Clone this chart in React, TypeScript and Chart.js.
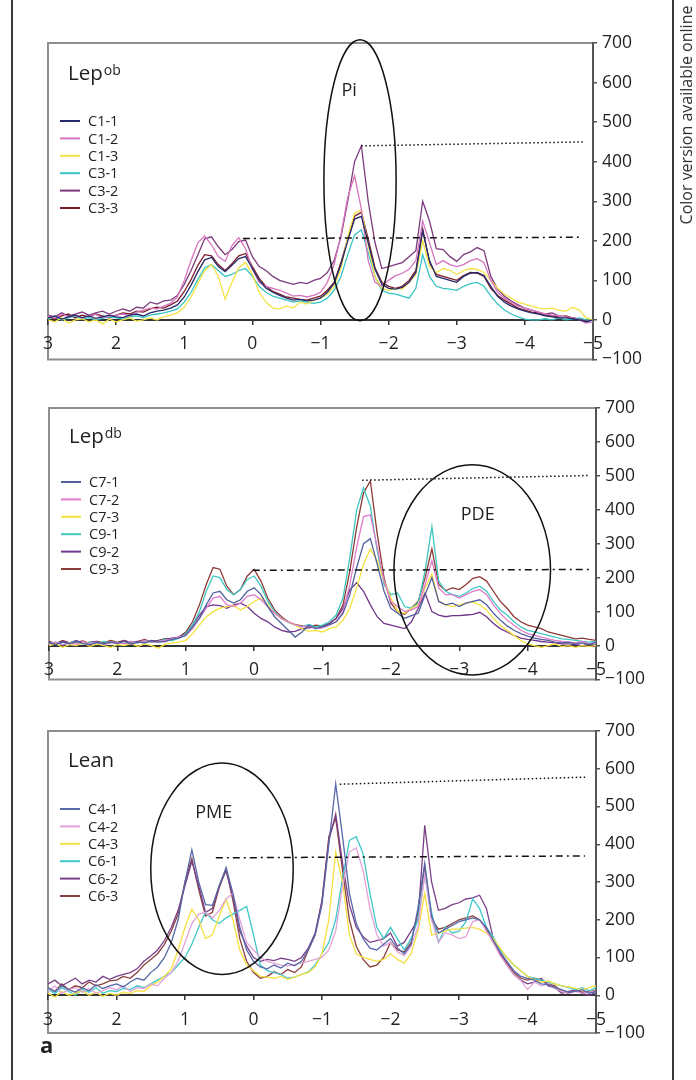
import React, { useEffect, useRef } from 'react';
import { Chart, registerables } from 'chart.js';
Chart.register(...registerables);

const FONT = '"Open Sans", "Noto Sans", sans-serif';
const TEXT = '#231f20';

// shared chemical-shift grid (ppm), left to right
const XS = [
  3.0, 2.9, 2.8, 2.7, 2.6, 2.5, 2.4, 2.3, 2.2, 2.1,
  2.0, 1.9, 1.8, 1.7, 1.6, 1.5, 1.4, 1.3, 1.2, 1.1,
  1.0, 0.9, 0.8, 0.7, 0.6, 0.5, 0.4, 0.3, 0.2, 0.1,
  0.0, -0.1, -0.2, -0.3, -0.4, -0.5, -0.6, -0.7, -0.8, -0.9,
  -1.0, -1.1, -1.2, -1.3, -1.4, -1.5, -1.6, -1.7, -1.8, -1.9,
  -2.0, -2.1, -2.2, -2.3, -2.4, -2.5, -2.6, -2.7, -2.8, -2.9,
  -3.0, -3.1, -3.2, -3.3, -3.4, -3.5, -3.6, -3.7, -3.8, -3.9,
  -4.0, -4.1, -4.2, -4.3, -4.4, -4.5, -4.6, -4.7, -4.8, -4.9,
  -5.0,
];
const X_TICKS = [3, 2, 1, 0, -1, -2, -3, -4, -5];
const Y_TICKS = [700, 600, 500, 400, 300, 200, 100, 0, -100];

// ---------- Panel 1: Lep ob ----------
const P1_NAMES = ['C1-1', 'C1-2', 'C1-3', 'C3-1', 'C3-2', 'C3-3'];
const P1_COLORS = ['#262a6c', '#d674be', '#f2e244', '#38c4c2', '#7c3a7c', '#7a1e2c'];
const P1_C1_1 = [
  5, 10, 2, 8, 12, 6, 10, 4, 8, 12,
  8, 6, 12, 15, 10, 18, 22, 25, 30, 38,
  58, 88, 122, 152, 158, 135, 122, 138, 155, 160,
  130, 100, 80, 70, 62, 55, 50, 52, 48, 50,
  55, 70, 92, 140, 200, 255, 262, 195, 128, 90,
  80, 78, 82, 95, 120, 225, 150, 110, 105, 100,
  95, 110, 118, 120, 112, 85, 60, 45, 35, 28,
  22, 18, 15, 10, 8, 5, 5, 3, 0, -5,
  0,
];
const P1_C1_2 = [
  10, 5, 15, 8, 12, 5, 10, 14, 6, 10,
  12, 15, 10, 20, 25, 30, 28, 35, 42, 58,
  100, 150, 195, 212, 190, 160, 148, 188, 208, 180,
  128, 95, 85, 80, 75, 68, 60, 62, 58, 62,
  70, 95, 140, 215, 310, 365, 280, 150, 95, 85,
  100, 112, 118, 128, 150, 250, 195, 140, 150, 140,
  135, 140, 150, 155, 145, 100, 70, 55, 45, 35,
  30, 25, 20, 15, 12, 10, 8, 5, 0, -8,
  -5,
];
const P1_C1_3 = [
  0, -5, 5, -8, 0, 3, -5, 0, -10, 2,
  -5, 0, 5, -3, 0, 5, 0, 8, 12, 18,
  32, 58, 92, 125, 140, 110, 52, 95, 132, 145,
  115, 70, 45, 30, 28, 35, 30, 45, 40, 50,
  55, 65, 85, 130, 210, 270, 278, 190, 110, 80,
  75, 80, 78, 95, 115, 200, 135, 120, 130, 125,
  115, 125, 130, 128, 120, 100, 80, 65, 55, 45,
  40, 35, 30, 28, 30, 25, 22, 32, 25, 5,
  0,
];
const P1_C3_1 = [
  3, 8, 0, 5, 10, 2, 6, 0, 4, 8,
  5, 2, 8, 10, 6, 12, 15, 18, 22, 28,
  45, 70, 102, 132, 140, 125, 110, 115, 125, 130,
  110, 85, 70, 60, 55, 50, 45, 48, 45, 42,
  45, 55, 75, 110, 165, 215, 228, 170, 110, 75,
  68, 65, 60, 55, 80, 165, 110, 85, 80, 78,
  75, 85, 92, 95, 85, 60, 40, 25, 15, 8,
  2, 0, 0, 3, 0, 5, 0, 2, 5, 0,
  0,
];
const P1_C3_2 = [
  12, 8, 18, 10, 15, 20, 12, 18, 22, 15,
  22, 28, 22, 32, 30, 45, 40, 48, 50, 62,
  90, 125, 165, 205, 210, 185, 165, 178, 198, 202,
  160, 135, 125, 110, 100, 95, 90, 95, 92, 100,
  105, 120, 150, 210, 300, 400, 440, 300, 195, 130,
  135, 140, 145, 160, 175, 300, 250, 180, 178, 160,
  148, 165, 172, 183, 175, 110, 78, 60, 48, 38,
  30, 25, 20, 15, 18, 10, 8, 5, 2, -5,
  0,
];
const P1_C3_3 = [
  8, 2, 10, 15, 5, 12, 8, 15, 10, 5,
  12, 18, 15, 22, 20, 28, 32, 30, 38, 48,
  72, 102, 138, 165, 162, 140, 125, 142, 162, 168,
  135, 105, 85, 72, 65, 58, 55, 52, 50, 55,
  60, 75, 95, 145, 205, 262, 272, 205, 132, 95,
  85, 80, 85, 100, 125, 230, 145, 115, 110, 105,
  100, 112, 120, 118, 110, 80, 62, 50, 40, 30,
  25, 20, 18, 12, 10, 8, 10, 5, 2, -3,
  0,
];
const P1_PEAK_LINE = [[-1.6, 440], [-4.87, 450]];
const P1_BASE_LINE = [[0.14, 206], [-4.83, 209]];
const P1_ELLIPSE = [-1.58, 353, 0.53, 355];
const P1_ELLIPSE_LABEL = ['Pi', -1.42, 578];

// ---------- Panel 2: Lep db ----------
const P2_NAMES = ['C7-1', 'C7-2', 'C7-3', 'C9-1', 'C9-2', 'C9-3'];
const P2_COLORS = ['#53609e', '#e07ccb', '#f4e23c', '#3ec8c0', '#70368a', '#8c3a36'];
const P2_C7_1 = [
  8, 3, 10, 5, 12, 6, 2, 9, 5, 10,
  6, 12, 4, 10, 8, 14, 10, 12, 18, 22,
  30, 55, 80, 120, 155, 160, 135, 125, 135, 160,
  170, 150, 115, 85, 65, 45, 25, 40, 60, 50,
  55, 62, 70, 95, 150, 230, 300, 315, 240, 160,
  110, 95, 80, 88, 95, 150, 200, 130, 120, 125,
  115, 125, 130, 135, 120, 95, 75, 58, 45, 35,
  28, 22, 18, 15, 10, 8, 10, 5, 8, 3,
  10,
];
const P2_C7_2 = [
  5, 10, 2, 8, 4, 12, 6, 10, 3, 8,
  10, 5, 12, 8, 15, 10, 12, 15, 20, 25,
  30, 50, 80, 110, 140, 145, 120, 115, 125, 145,
  150, 135, 115, 95, 80, 70, 62, 55, 58, 50,
  52, 60, 70, 100, 180, 290, 380, 385, 290, 190,
  130, 115, 100, 105, 115, 180, 250, 170, 150, 150,
  140, 150, 160, 165, 150, 120, 95, 75, 60, 45,
  35, 30, 25, 20, 15, 12, 10, 8, 12, 5,
  8,
];
const P2_C7_3 = [
  0, 5, -5, 3, 0, 8, -3, 5, 0, -5,
  3, 0, 6, -2, 5, 0, -8, 4, 8, 10,
  15, 35, 60, 85, 100, 110, 115, 118, 105, 115,
  130, 140, 120, 95, 80, 70, 60, 50, 42, 45,
  40, 50, 55, 75, 110, 170, 240, 285, 250, 190,
  140, 100, 95, 110, 120, 170, 210, 130, 120, 115,
  120, 125, 128, 120, 105, 80, 60, 45, 30, 15,
  5, 0, -5, 0, 5, -3, 0, -5, 0, -3,
  0,
];
const P2_C9_1 = [
  5, 10, 3, 8, 12, 5, 10, 6, 12, 8,
  10, 6, 12, 8, 14, 10, 12, 18, 15, 22,
  35, 60, 100, 160, 205, 200, 165, 150, 165, 195,
  205, 175, 130, 100, 80, 68, 60, 55, 62, 55,
  60, 70, 90, 140, 260, 400, 465, 410, 280, 180,
  150, 155, 115, 110, 125, 220, 350, 190, 160, 150,
  145, 155, 168, 175, 160, 130, 105, 90, 70, 55,
  45, 40, 35, 30, 25, 20, 18, 15, 12, 10,
  12,
];
const P2_C9_2 = [
  10, 5, 12, 8, 15, 6, 10, 12, 5, 10,
  8, 14, 10, 12, 8, 15, 12, 18, 22, 25,
  35, 60, 90, 115, 120, 118, 110, 120, 125, 115,
  95, 80, 70, 55, 45, 40, 42, 50, 52, 55,
  58, 65, 80, 110, 165, 185, 160, 120, 85, 65,
  60, 55, 50, 70, 110, 155, 100, 90, 85, 88,
  88, 90, 92, 98, 85, 65, 50, 40, 30, 22,
  18, 15, 12, 10, 8, 5, 5, 3, 0, 5,
  0,
];
const P2_C9_3 = [
  12, 6, 15, 8, 10, 14, 5, 12, 8, 15,
  10, 15, 8, 12, 18, 10, 15, 20, 18, 25,
  40, 70, 120, 180, 230, 225, 175, 150, 165, 205,
  225, 190, 140, 105, 85, 70, 62, 58, 55, 60,
  58, 65, 80, 120, 220, 350, 450, 485, 330, 200,
  125, 100, 92, 110, 130, 200, 285, 180, 162, 170,
  165, 180, 198, 203, 190, 160, 130, 110, 85, 70,
  60, 55, 50, 40, 35, 30, 25, 20, 22, 18,
  15,
];
const P2_PEAK_LINE = [[-1.58, 487], [-4.88, 501]];
const P2_BASE_LINE = [[0.02, 222], [-4.9, 224]];
const P2_ELLIPSE = [-3.19, 223, 1.145, 310];
const P2_ELLIPSE_LABEL = ['PDE', -3.27, 386];

// ---------- Panel 3: Lean ----------
const P3_NAMES = ['C4-1', 'C4-2', 'C4-3', 'C6-1', 'C6-2', 'C6-3'];
const P3_COLORS = ['#5868a8', '#e2a2d8', '#f4e040', '#40c8c8', '#7a4088', '#8a4040'];
const P3_C4_1 = [
  20, 10, 25, 15, 8, 20, 12, 28, 18, 25,
  30, 22, 35, 45, 40, 60, 75, 100, 140, 200,
  300, 385, 300, 240, 238, 290, 338, 270, 180, 120,
  90, 75, 70, 80, 72, 85, 78, 90, 120, 160,
  240, 400, 560, 420, 270, 190, 150, 125, 120, 135,
  150, 125, 110, 135, 230, 350, 210, 165, 175, 185,
  195, 200, 205, 200, 180, 145, 115, 90, 65, 50,
  45, 40, 30, 28, 20, 15, 8, 10, 15, 5,
  10,
];
const P3_C4_2 = [
  10, 25, 5, 15, 20, 8, 18, 5, 12, 20,
  15, 25, 10, 20, 18, 30, 25, 45, 60, 90,
  140, 190, 215, 220, 205, 225, 255, 270, 200, 140,
  120, 100, 90, 85, 80, 78, 82, 85, 90, 95,
  100, 120, 170, 290, 380, 390, 330, 230, 160, 130,
  140, 115, 105, 130, 180, 320, 200, 140, 165, 160,
  150, 155, 195, 200, 170, 140, 105, 80, 55, 40,
  15, 35, 25, 30, 18, 10, 5, 10, 5, 8,
  10,
];
const P3_C4_3 = [
  5, -5, 10, 0, 5, 12, 0, 8, -3, 5,
  0, 8, 5, 12, 10, 25, 35, 50, 70, 120,
  180, 228, 200, 150, 160, 210, 255, 200, 120, 80,
  65, 50, 48, 45, 50, 42, 48, 55, 60, 75,
  110, 200, 380, 300, 160, 110, 100, 95, 90, 95,
  110, 95, 85, 110, 170, 270, 160, 165, 170, 175,
  175, 178, 180, 175, 165, 150, 125, 100, 80, 65,
  50, 40, 35, 38, 30, 25, 22, 18, 15, 20,
  25,
];
const P3_C6_1 = [
  15, 5, 20, 10, 0, 15, 8, 20, 5, 12,
  10, 18, 15, 25, 20, 30, 40, 50, 60, 80,
  100, 135, 180, 220, 200, 190, 205, 215, 225, 235,
  160, 80, 65, 60, 55, 45, 48, 55, 62, 80,
  110, 140, 200, 310, 410, 420, 375, 270, 180, 150,
  180, 150, 120, 150, 200, 320, 220, 140, 180, 165,
  170, 195, 255, 230, 180, 155, 120, 100, 80, 65,
  50, 45, 40, 35, 30, 25, 20, 15, 20, 12,
  20,
];
const P3_C6_2 = [
  30, 40, 25, 35, 45, 30, 40, 35, 50, 42,
  50, 55, 60, 70, 90, 104, 120, 145, 180, 225,
  290, 355, 290, 220, 230, 290, 330, 260, 170, 130,
  100, 90, 95, 92, 98, 95, 90, 100, 125, 165,
  250, 410, 480, 350, 240, 180, 155, 140, 145, 150,
  165, 130, 140, 170, 200, 450, 300, 225, 230, 240,
  245, 255, 258, 265, 230, 150, 110, 80, 55, 40,
  30, 35, 45, 25, 20, 5, 10, 15, 5, 0,
  8,
];
const P3_C6_3 = [
  20, 10, 30, 15, 25, 20, 35, 25, 30, 38,
  40, 50, 45, 60, 80, 95, 110, 135, 170, 215,
  300, 362, 280, 210, 220, 285, 335, 250, 150, 90,
  60, 45, 50, 62, 55, 68, 60, 75, 120, 160,
  250, 420, 470, 330, 200, 130, 95, 75, 80, 100,
  140, 120, 115, 140, 220, 340, 200, 175, 180, 190,
  200, 205, 210, 200, 175, 140, 110, 85, 60, 45,
  40, 45, 40, 30, 25, 10, 5, 12, 8, 10,
  12,
];
const P3_PEAK_LINE = [[-1.26, 559], [-4.88, 578]];
const P3_BASE_LINE = [[0.55, 364], [-4.84, 369]];
const P3_ELLIPSE = [0.46, 335, 1.04, 280];
const P3_ELLIPSE_LABEL = ['PME', 0.58, 483];

// ---------- panel configs (layout) ----------
const PANELS = [
  {
    title: 'Lep', sup: 'ob', names: P1_NAMES, colors: P1_COLORS,
    series: [P1_C1_1, P1_C1_2, P1_C1_3, P1_C3_1, P1_C3_2, P1_C3_3],
    peak: P1_PEAK_LINE, base: P1_BASE_LINE, ellipse: P1_ELLIPSE, ellipseLabel: P1_ELLIPSE_LABEL,
    top: 0, height: 375, pad: { left: 48, top: 43, right: 0, bottom: 15 }, axisW: 103,
    titleDy: 37, legendDy: 78,
  },
  {
    title: 'Lep', sup: 'db', names: P2_NAMES, colors: P2_COLORS,
    series: [P2_C7_1, P2_C7_2, P2_C7_3, P2_C9_1, P2_C9_2, P2_C9_3],
    peak: P2_PEAK_LINE, base: P2_BASE_LINE, ellipse: P2_ELLIPSE, ellipseLabel: P2_ELLIPSE_LABEL,
    top: 380, height: 315, pad: { left: 49, top: 28, right: 0, bottom: 13 }, axisW: 100,
    titleDy: 35, legendDy: 74,
  },
  {
    title: 'Lean', sup: '', names: P3_NAMES, colors: P3_COLORS,
    series: [P3_C4_1, P3_C4_2, P3_C4_3, P3_C6_1, P3_C6_2, P3_C6_3],
    peak: P3_PEAK_LINE, base: P3_BASE_LINE, ellipse: P3_ELLIPSE, ellipseLabel: P3_ELLIPSE_LABEL,
    top: 710, height: 340, pad: { left: 48, top: 21, right: 0, bottom: 17 }, axisW: 100,
    titleDy: 36, legendDy: 78,
  },
];

const fmt = (v: number) => (v < 0 ? '\u2212' + Math.abs(v) : String(v));

function makeDecor(p: any) {
  return {
    id: 'decor',
    beforeDraw(chart: any) {
      const { ctx, chartArea: a } = chart;
      ctx.save();
      ctx.strokeStyle = '#8e8e8e';
      ctx.lineWidth = 2;
      ctx.strokeRect(a.left, a.top, a.right - a.left, a.bottom - a.top);
      ctx.restore();
    },
    afterDatasetsDraw(chart: any) {
      const { ctx, chartArea: a } = chart;
      const xs = chart.scales.x;
      const ys = chart.scales.y;
      const px = (v: number) => xs.getPixelForValue(v);
      const py = (v: number) => ys.getPixelForValue(v);
      ctx.save();
      ctx.strokeStyle = '#111';
      ctx.lineWidth = 1.5;
      const seg = (pts: number[][], dash: number[]) => {
        ctx.setLineDash(dash);
        ctx.beginPath();
        ctx.moveTo(px(pts[0][0]), py(pts[0][1]));
        ctx.lineTo(px(pts[1][0]), py(pts[1][1]));
        ctx.stroke();
      };
      seg(p.peak, [1.5, 2.5]);
      seg(p.base, [7, 4, 2, 4]);
      ctx.setLineDash([]);
      const [ecx, ecy, erx, ery] = p.ellipse;
      const cx = px(ecx), cy = py(ecy);
      const rx = Math.abs(px(ecx + erx) - cx);
      const ry = Math.abs(py(ecy + ery) - cy);
      ctx.beginPath();
      ctx.ellipse(cx, cy, rx, ry, 0, 0, Math.PI * 2);
      ctx.stroke();
      ctx.fillStyle = TEXT;
      ctx.font = `18px ${FONT}`;
      ctx.textAlign = 'center';
      ctx.textBaseline = 'middle';
      const [lt, lx, ly] = p.ellipseLabel;
      ctx.fillText(lt, px(lx), py(ly));
      // title
      ctx.textAlign = 'left';
      ctx.textBaseline = 'alphabetic';
      ctx.font = `20.5px ${FONT}`;
      const tx = a.left + 20, ty = a.top + p.titleDy;
      ctx.fillText(p.title, tx, ty);
      if (p.sup) {
        const w = ctx.measureText(p.title).width;
        ctx.font = `14px ${FONT}`;
        ctx.fillText(p.sup, tx + w + 1, ty - 5);
      }
      // legend
      ctx.font = `14.5px ${FONT}`;
      ctx.textBaseline = 'middle';
      chart.data.datasets.forEach((ds: any, i: number) => {
        const yy = a.top + p.legendDy + i * 17.4;
        ctx.strokeStyle = ds.borderColor;
        ctx.lineWidth = 2;
        ctx.beginPath();
        ctx.moveTo(a.left + 12, yy);
        ctx.lineTo(a.left + 32, yy);
        ctx.stroke();
        ctx.fillStyle = TEXT;
        ctx.fillText(ds.label, a.left + 40, yy + 1);
      });
      ctx.restore();
    },
  };
}

function Panel({ p }: { p: any }) {
  const ref = useRef<HTMLCanvasElement>(null);
  useEffect(() => {
    const canvas = ref.current;
    if (!canvas) return;
    const chart = new Chart(canvas, {
      type: 'line',
      data: {
        datasets: p.series.map((s: number[], i: number) => ({
          label: p.names[i],
          data: XS.map((x, j) => ({ x, y: s[j] })),
          borderColor: p.colors[i],
          backgroundColor: p.colors[i],
          borderWidth: 1.3,
          pointRadius: 0,
          tension: 0,
          fill: false,
        })),
      },
      options: {
        animation: false,
        responsive: false,
        maintainAspectRatio: false,
        devicePixelRatio: 1,
        layout: { padding: p.pad },
        plugins: { legend: { display: false }, tooltip: { enabled: false } },
        scales: {
          x: {
            type: 'linear',
            min: -5,
            max: 3,
            reverse: true,
            position: { y: 0 },
            afterBuildTicks: (s: any) => { s.ticks = X_TICKS.map((v) => ({ value: v })); },
            ticks: {
              callback: (v: any) => fmt(Number(v)),
              font: { family: FONT, size: 17.5 },
              color: TEXT,
              maxRotation: 0,
              autoSkip: false,
              padding: 10,
            },
            grid: { drawOnChartArea: false, tickLength: 4, color: '#333', lineWidth: 1.5 },
            border: { color: '#333', width: 2 },
          },
          y: {
            type: 'linear',
            position: 'right',
            min: -100,
            max: 700,
            afterBuildTicks: (s: any) => { s.ticks = Y_TICKS.map((v) => ({ value: v })); },
            afterFit: (s: any) => { s.width = p.axisW; },
            ticks: {
              callback: (v: any) => fmt(Number(v)),
              font: { family: FONT, size: 17.5 },
              color: TEXT,
              padding: 5,
            },
            grid: { drawOnChartArea: false, tickLength: 4, color: '#555', lineWidth: 1.5 },
            border: { color: '#555', width: 2 },
          },
        },
      } as any,
      plugins: [makeDecor(p)],
    });
    return () => chart.destroy();
  }, []);
  return (
    <canvas
      ref={ref}
      width={696}
      height={p.height}
      style={{ position: 'absolute', left: 0, top: p.top, width: 696, height: p.height }}
    />
  );
}

export default function App() {
  return (
    <div style={{ position: 'absolute', left: 0, top: 0, width: 696, height: 1080, background: '#fff', overflow: 'hidden' }}>
      <div style={{ position: 'absolute', left: 11, top: 0, width: 2, height: 1080, background: '#3a3a3a' }} />
      <div style={{ position: 'absolute', left: 672, top: 0, width: 2, height: 1080, background: '#3a3a3a' }} />
      {PANELS.map((p, i) => (
        <Panel key={i} p={p} />
      ))}
      <div
        style={{
          position: 'absolute', left: 561, top: 106, width: 250, height: 18, lineHeight: '18px',
          textAlign: 'center', transform: 'rotate(-90deg)', fontFamily: FONT, fontSize: 16, color: '#333',
          whiteSpace: 'nowrap',
        }}
      >
        Color version available online
      </div>
      <div
        style={{
          position: 'absolute', left: 40, top: 1033, fontFamily: FONT, fontWeight: 700, fontSize: 22,
          lineHeight: '22px', color: TEXT,
        }}
      >
        a
      </div>
    </div>
  );
}
